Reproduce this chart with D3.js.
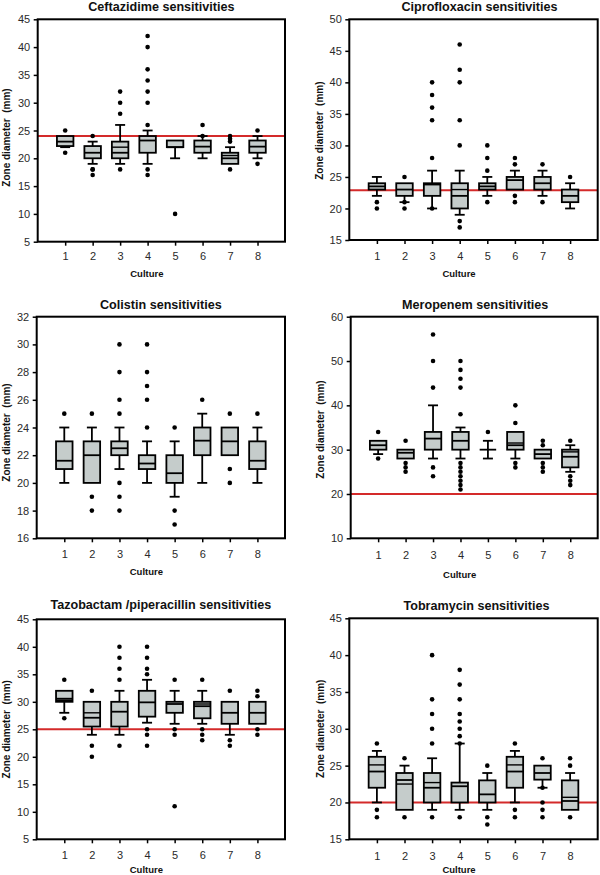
<!DOCTYPE html>
<html>
<head>
<meta charset="utf-8">
<script src="https://cdn.jsdelivr.net/npm/d3@7"></script>
<style>
  html, body { margin: 0; padding: 0; background: #fff; }
  svg { display: block; font-family: "Liberation Sans", Arial, sans-serif; }
</style>
</head>
<body>
<svg id="chart" width="600" height="875"></svg>
<script>
// ---------- DATA ----------
const cultures = [1, 2, 3, 4, 5, 6, 7, 8];
const titles = [
  "Ceftazidime sensitivities",
  "Ciprofloxacin sensitivities",
  "Colistin sensitivities",
  "Meropenem sensitivities",
  "Tazobactam /piperacillin sensitivities",
  "Tobramycin sensitivities"
];
const yAxisTitle = "Zone diameter  (mm)";
const xAxisTitle = "Culture";

// y tick labels per panel
const ceftazidimeTicks = [5, 10, 15, 20, 25, 30, 35, 40, 45];
const ciprofloxacinTicks = [15, 20, 25, 30, 35, 40, 45, 50];
const colistinTicks = [16, 18, 20, 22, 24, 26, 28, 30, 32];
const meropenemTicks = [10, 20, 30, 40, 50, 60];
const tazobactamTicks = [5, 10, 15, 20, 25, 30, 35, 40, 45];
const tobramycinTicks = [15, 20, 25, 30, 35, 40, 45];

// breakpoints (red lines); null = none
const breakpoints = [24, 22.9, null, 20, 25, 20];

// Ceftazidime
const ceftazidimeQ1 = [22.2, 20, 20, 21, 22, 21, 19, 21];
const ceftazidimeMedian = [23, 21, 21, 23.2, 22, 22.1, 20, 22.1];
const ceftazidimeQ3 = [24, 22.2, 23, 24, 23.2, 23.2, 21, 23.2];
const ceftazidimeMean = [null, null, 22, null, null, null, 20.5, null];
const ceftazidimeLow = [22, 19, 19, 19, 20, 20, 19, 20];
const ceftazidimeHigh = [24, 23, 26, 25, 23.2, 24, 22, 24];
const ceftazidimeOutliers = [[25, 21], [24, 18, 18, 17], [32, 30, 28, 18], [42, 40, 36, 34, 32, 30, 26, 18, 17], [10], [26, 24], [24, 23.5, 23, 18], [25, 19]];

// Ciprofloxacin
const ciprofloxacinQ1 = [23, 22, 22, 20, 23, 23, 23, 21];
const ciprofloxacinMedian = [23.5, 23, 23.8, 22, 23.5, 24.5, 24, 22];
const ciprofloxacinQ3 = [24, 24, 24, 24, 24, 25, 25, 23];
const ciprofloxacinMean = [null, null, null, 23, null, null, null, null];
const ciprofloxacinLow = [22, 21, 20, 19, 22, 23, 22, 20];
const ciprofloxacinHigh = [25, 24, 26, 26, 25, 26, 26, 24];
const ciprofloxacinOutliers = [[21, 20], [25, 21, 20], [40, 38, 36, 34, 28, 20], [46, 42, 40, 34, 30, 18, 17], [30, 28, 26, 21], [28, 27, 22, 21], [27, 21], [25]];

// Colistin
const colistinQ1 = [21, 20, 22, 21, 20, 22, 22, 21];
const colistinMedian = [21.6, 22, 22.5, 21.4, 20.7, 23.05, 23, 21.6];
const colistinQ3 = [23, 23, 23, 22, 22, 24, 24, 23];
const colistinMean = [null, null, null, null, null, null, null, null];
const colistinLow = [20, 20, 21, 20, 19, 20, 22, 20];
const colistinHigh = [24, 24, 24, 23, 23, 25, 24, 24];
const colistinOutliers = [[25], [25, 19, 18], [30, 28, 26, 25, 20, 19, 18], [30, 28, 27, 26, 24], [24, 18, 17], [26], [25, 21, 20], [25]];

// Meropenem
const meropenemQ1 = [30, 28, 30, 30, 30, 30, 28, 26];
const meropenemMedian = [31, 29.3, 32.5, 32, 30, 31, 29, 28.4];
const meropenemQ3 = [32, 30, 34, 34, 30, 34, 30, 30];
const meropenemMean = [null, null, null, null, null, 31.5, null, 29.5];
const meropenemLow = [29, 28, 28, 28, 28, 28, 28, 25];
const meropenemHigh = [32, 30, 40, 35, 32, 34, 30, 31];
const meropenemOutliers = [[34, 28], [32, 27, 26, 25], [56, 50, 44, 26, 24], [50, 48, 46, 44, 38, 27, 26, 25, 24, 23, 22, 21], [34], [40, 36, 27, 26], [32, 31, 27, 26, 25], [32, 24, 23, 22]];

// Tazobactam / piperacillin
const tazobactamQ1 = [30, 25.5, 25.5, 27.3, 28, 27, 26, 26];
const tazobactamMedian = [30.3, 27.1, 28.2, 29.9, 29.6, 29.2, 28, 28];
const tazobactamQ3 = [32, 30, 30, 32, 30, 30, 30, 30];
const tazobactamMean = [30.6, 28, null, null, null, 29.6, null, null];
const tazobactamLow = [28, 24, 24, 26.2, 26, 26, 24, 26];
const tazobactamHigh = [32, 30, 32, 34, 32, 32, 30, 30];
const tazobactamOutliers = [[34, 27], [32, 22, 20], [40, 38, 36, 34, 22], [40, 38, 36, 35, 25, 24, 22], [34, 25, 24, 11], [34, 25, 24, 23], [32, 23, 22], [32, 31, 25, 24]];

// Tobramycin
const tobramycinQ1 = [22, 19, 20, 20, 20, 22, 23.1, 19];
const tobramycinMedian = [24.2, 23.05, 22, 22.2, 21.1, 24.2, 24, 20.2];
const tobramycinQ3 = [26.2, 24, 24, 22.7, 23, 26.2, 25, 23];
const tobramycinMean = [25.1, 22.5, 22.7, null, null, 25.1, null, 20.7];
const tobramycinLow = [20, 19, 19, 19, 19, 20, 22, 19];
const tobramycinHigh = [27, 25, 26, 28, 24, 27, 25, 24];
const tobramycinOutliers = [[28, 19, 18], [26, 18], [40, 34, 32, 30, 28, 18], [38, 36, 34, 32, 31, 30, 29, 28, 18], [25, 18, 17], [28, 19, 18], [26, 22, 20, 19, 18], [26, 25, 18]];

// ---------- BUILD ----------
function series(q1, med, q3, mean, lo, hi, out) {
  return cultures.map((c, i) => ({ c, q1: q1[i], med: med[i], q3: q3[i], mean: mean[i], lo: lo[i], hi: hi[i], out: out[i] }));
}
const panelData = [
  series(ceftazidimeQ1, ceftazidimeMedian, ceftazidimeQ3, ceftazidimeMean, ceftazidimeLow, ceftazidimeHigh, ceftazidimeOutliers),
  series(ciprofloxacinQ1, ciprofloxacinMedian, ciprofloxacinQ3, ciprofloxacinMean, ciprofloxacinLow, ciprofloxacinHigh, ciprofloxacinOutliers),
  series(colistinQ1, colistinMedian, colistinQ3, colistinMean, colistinLow, colistinHigh, colistinOutliers),
  series(meropenemQ1, meropenemMedian, meropenemQ3, meropenemMean, meropenemLow, meropenemHigh, meropenemOutliers),
  series(tazobactamQ1, tazobactamMedian, tazobactamQ3, tazobactamMean, tazobactamLow, tazobactamHigh, tazobactamOutliers),
  series(tobramycinQ1, tobramycinMedian, tobramycinQ3, tobramycinMean, tobramycinLow, tobramycinHigh, tobramycinOutliers)
];
const panelTicks = [ceftazidimeTicks, ciprofloxacinTicks, colistinTicks, meropenemTicks, tazobactamTicks, tobramycinTicks];

// layout (pixel frames of each plot)
const layout = [
  { x0: 37.7, x1: 285, y0: 19.3, y1: 241.7, titleDx: 0, titleDy: 8, labX: 10, labDy: 7, tickPad: 6.5, cultDy: 35 },
  { x0: 349.3, x1: 597.7, y0: 19.3, y1: 240, titleDx: 6, titleDy: 8.5, labX: 323, labDy: 1, tickPad: 8.5, cultDy: 37 },
  { x0: 36.7, x1: 285, y0: 316.7, y1: 538.3, titleDx: 0, titleDy: 8, labX: 10, labDy: 5, tickPad: 8, cultDy: 37 },
  { x0: 350.7, x1: 597.7, y0: 316.7, y1: 538.3, titleDx: 1, titleDy: 8, labX: 324, labDy: 2, tickPad: 8.5, cultDy: 40 },
  { x0: 36.7, x1: 285, y0: 619.3, y1: 839.3, titleDx: 0, titleDy: 10, labX: 9.5, labDy: 0, tickPad: 7.5, cultDy: 33.5 },
  { x0: 349.3, x1: 597.7, y0: 618.3, y1: 839.3, titleDx: 3, titleDy: 8.5, labX: 324, labDy: 0, tickPad: 9, cultDy: 33.5 }
];

const svg = d3.select("#chart");
const boxFill = "#c5cccb";
const red = "#d42a2a";
const boxW = 16.5, capW = 10;

panelData.forEach((data, p) => {
  const L = layout[p];
  const ticks = panelTicks[p];
  const x = d3.scaleLinear().domain([0, 9]).range([L.x0, L.x1]);
  const y = d3.scaleLinear().domain([ticks[0], ticks[ticks.length - 1]]).range([L.y1, L.y0]);
  const g = svg.append("g");

  // title
  g.append("text")
    .attr("x", (L.x0 + L.x1) / 2 + L.titleDx)
    .attr("y", L.y0 - L.titleDy)
    .attr("text-anchor", "middle")
    .attr("font-size", 12.6)
    .attr("font-weight", "bold")
    .attr("fill", "#111")
    .text(titles[p]);

  // breakpoint line (behind boxes)
  if (breakpoints[p] != null) {
    g.append("line")
      .attr("x1", L.x0).attr("x2", L.x1)
      .attr("y1", y(breakpoints[p])).attr("y2", y(breakpoints[p]))
      .attr("stroke", red).attr("stroke-width", 2);
  }

  // boxes
  const bx = g.selectAll("g.bx").data(data).enter().append("g").attr("class", "bx");
  // whiskers
  bx.append("line")
    .attr("x1", d => x(d.c)).attr("x2", d => x(d.c))
    .attr("y1", d => y(d.hi)).attr("y2", d => y(d.q3))
    .attr("stroke", "#000").attr("stroke-width", 1.8);
  bx.append("line")
    .attr("x1", d => x(d.c)).attr("x2", d => x(d.c))
    .attr("y1", d => y(d.q1)).attr("y2", d => y(d.lo))
    .attr("stroke", "#000").attr("stroke-width", 1.8);
  bx.filter(d => d.hi > d.q3).append("line")
    .attr("x1", d => x(d.c) - capW / 2).attr("x2", d => x(d.c) + capW / 2)
    .attr("y1", d => y(d.hi)).attr("y2", d => y(d.hi))
    .attr("stroke", "#000").attr("stroke-width", 1.8);
  bx.filter(d => d.lo < d.q1).append("line")
    .attr("x1", d => x(d.c) - capW / 2).attr("x2", d => x(d.c) + capW / 2)
    .attr("y1", d => y(d.lo)).attr("y2", d => y(d.lo))
    .attr("stroke", "#000").attr("stroke-width", 1.8);
  // box
  bx.filter(d => d.q3 > d.q1).append("rect")
    .attr("x", d => x(d.c) - boxW / 2)
    .attr("width", boxW)
    .attr("y", d => y(d.q3))
    .attr("height", d => y(d.q1) - y(d.q3))
    .attr("fill", boxFill).attr("stroke", "#000").attr("stroke-width", 1.8);
  // median
  bx.append("line")
    .attr("x1", d => x(d.c) - boxW / 2).attr("x2", d => x(d.c) + boxW / 2)
    .attr("y1", d => y(d.med)).attr("y2", d => y(d.med))
    .attr("stroke", "#000").attr("stroke-width", 1.8);
  // mean
  bx.filter(d => d.mean != null).append("line")
    .attr("x1", d => x(d.c) - boxW / 2).attr("x2", d => x(d.c) + boxW / 2)
    .attr("y1", d => y(d.mean)).attr("y2", d => y(d.mean))
    .attr("stroke", "#000").attr("stroke-width", 1.4);
  // outliers
  bx.selectAll("circle").data(d => d.out.map(v => ({ c: d.c, v }))).enter().append("circle")
    .attr("cx", d => x(d.c)).attr("cy", d => y(d.v)).attr("r", 2.3)
    .attr("fill", "#000");

  // frame
  g.append("rect")
    .attr("x", L.x0).attr("y", L.y0)
    .attr("width", L.x1 - L.x0).attr("height", L.y1 - L.y0)
    .attr("fill", "none").attr("stroke", "#000").attr("stroke-width", 2);

  // axes
  const ay = g.append("g").attr("transform", `translate(${L.x0},0)`)
    .call(d3.axisLeft(y).tickValues(ticks).tickSize(4).tickPadding(3.5));
  const ax = g.append("g").attr("transform", `translate(0,${L.y1})`)
    .call(d3.axisBottom(x).tickValues(cultures).tickSize(4).tickPadding(L.tickPad).tickFormat(d3.format("d")));
  [ay, ax].forEach(a => {
    a.select(".domain").remove();
    a.selectAll(".tick line").attr("stroke", "#000").attr("stroke-width", 1.5);
    a.selectAll(".tick text").attr("font-size", 11).attr("fill", "#2a2a2a")
      .attr("font-family", "Liberation Sans, Arial, sans-serif");
  });

  // axis titles
  g.append("text")
    .attr("x", (L.x0 + L.x1) / 2 - 14.5)
    .attr("y", L.y1 + L.cultDy)
    .attr("text-anchor", "middle")
    .attr("font-size", 9.5).attr("font-weight", "bold").attr("fill", "#111")
    .text(xAxisTitle);
  g.append("text")
    .attr("transform", `translate(${L.labX},${(L.y0 + L.y1) / 2 + L.labDy}) rotate(-90)`)
    .attr("text-anchor", "middle")
    .style("white-space", "pre")
    .attr("font-size", 10).attr("font-weight", "bold").attr("fill", "#111")
    .text(yAxisTitle);
});
</script>
</body>
</html>
